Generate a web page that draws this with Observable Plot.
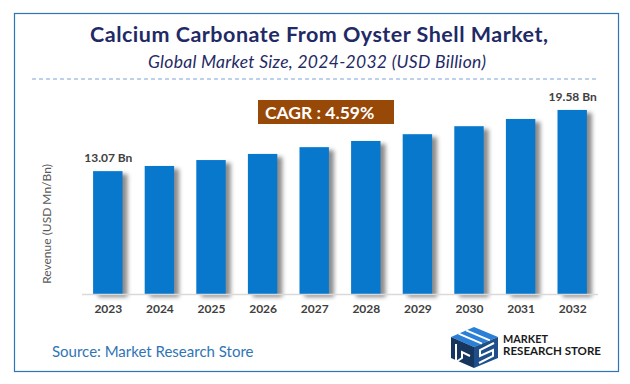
<!DOCTYPE html>
<html><head><meta charset="utf-8">
<script src="https://cdn.jsdelivr.net/npm/d3@7"></script>
<script src="https://cdn.jsdelivr.net/npm/@observablehq/plot@0.6"></script>
<style>
html,body{margin:0;padding:0;background:#fff;}
#wrap{position:relative;width:630px;height:384px;overflow:hidden;font-family:Lato,"Open Sans",sans-serif;}
#chart{position:absolute;left:0;top:0;}
#overlay{position:absolute;left:0;top:0;pointer-events:none;}
#chart svg g[aria-label="bar"]{filter:drop-shadow(5px 3px 2px rgba(0,0,0,0.45));}
#chart svg g[aria-label="x-axis tick label"]{font-weight:bold;}
</style></head><body>
<div id="wrap"><div id="chart"></div><svg id="overlay" width="630" height="384" xmlns="http://www.w3.org/2000/svg"></svg></div>
<script>
const years = ["2023","2024","2025","2026","2027","2028","2029","2030","2031","2032"];
const revenue = [13.07, 13.62, 14.25, 14.90, 15.62, 16.28, 17.00, 17.85, 18.62, 19.58];
const valueLabels = ["13.07 Bn","","","","","","","","","19.58 Bn"];
const titleText = "Calcium Carbonate From Oyster Shell Market,";
const subtitleText = "Global Market Size, 2024-2032 (USD Billion)";
const cagrText = "CAGR : 4.59%";
const yLabelText = "Revenue (USD Mn/Bn)";
const sourceText = "Source: Market Research Store";
const logoLines = ["MARKET","RESEARCH STORE"];

const data = years.map((y,i)=>({year:y, value:revenue[i], label:valueLabels[i]}));

const plot = Plot.plot({
  width:630, height:384,
  marginLeft:82, marginRight:32, marginTop:106, marginBottom:90,
  style:{background:"transparent", fontFamily:"Lato, 'Open Sans', sans-serif", fontSize:"12px", color:"#404040", overflow:"visible"},
  x:{domain:years, paddingInner:0.43, paddingOuter:0.215, round:false, label:null, tickSize:0, tickPadding:10},
  y:{domain:[0,20], axis:null},
  marks:[
    Plot.barY(data,{x:"year", y:"value", fill:"#0878cd"}),
    Plot.ruleY([0],{stroke:"#d9d9d9", strokeWidth:1.5}),
    Plot.text(data.filter(d=>d.label),{x:"year", y:"value", text:"label", dy:-13, fill:"#404040", fontWeight:"bold", fontSize:12})
  ]
});
document.getElementById("chart").appendChild(plot);

const ov = d3.select("#overlay");
ov.append("rect").attr("x",14.5).attr("y",13.5).attr("width",604).attr("height",358)
  .attr("fill","none").attr("stroke","#2e75b6").attr("stroke-width",1.2);
ov.append("text").attr("x",90).attr("y",42)
  .attr("font-weight","bold").attr("font-size",21.5).attr("fill","#1f2a66")
  .attr("textLength",458).attr("lengthAdjust","spacing").text(titleText);
ov.append("text").attr("x",148).attr("y",68)
  .attr("font-style","italic").attr("font-size",17.5).attr("fill","#1f2a66")
  .attr("textLength",338).attr("lengthAdjust","spacing").text(subtitleText);
ov.append("line").attr("x1",32).attr("x2",599).attr("y1",79).attr("y2",79)
  .attr("stroke","#7aa3d8").attr("stroke-dasharray","4 3");
ov.append("rect").attr("x",258).attr("y",100).attr("width",136).attr("height",24).attr("fill","#984807");
ov.append("text").attr("x",265).attr("y",119).attr("font-weight","bold").attr("font-size",17.5)
  .attr("fill","#fff").text(cagrText);
ov.append("text").attr("transform","translate(51,224) rotate(-90)").attr("text-anchor","middle")
  .attr("font-size",12).attr("fill","#595959").text(yLabelText);
ov.append("text").attr("x",52).attr("y",357).attr("font-size",15).attr("fill","#2e75b6").text(sourceText);

// logo
const lg = ov.append("g");
lg.append("polygon").attr("points","474,327 498,337 474,347 451,337").attr("fill","#2a80d6");
lg.append("polygon").attr("points","451,337 474,347 474,368 451,358").attr("fill","#17365d");
lg.append("polygon").attr("points","474,347 498,337 498,358 474,368").attr("fill","#1f4f8a");
[0.33,0.66].forEach(t=>{
  lg.append("line").attr("x1",451+23*t).attr("y1",337-10*t).attr("x2",474+24*t).attr("y2",347-10*t)
    .attr("stroke","#fff").attr("stroke-width",2);
});
lg.append("polyline").attr("points","456,344 456,362 462,358 462,352 470,356")
  .attr("fill","none").attr("stroke","#fff").attr("stroke-width",2);
lg.append("polyline").attr("points","494,343 480,350 480,356 493,350 493,356 479,363")
  .attr("fill","none").attr("stroke","#fff").attr("stroke-width",2);
lg.append("text").attr("x",503).attr("y",343).attr("font-weight","bold").attr("font-size",10.5)
  .attr("fill","#1a1a1a").attr("textLength",45).attr("lengthAdjust","spacingAndGlyphs").text(logoLines[0]);
lg.append("text").attr("x",503).attr("y",355).attr("font-weight","bold").attr("font-size",10.5)
  .attr("fill","#1a1a1a").attr("textLength",98).attr("lengthAdjust","spacingAndGlyphs").text(logoLines[1]);
</script>
</body></html>
